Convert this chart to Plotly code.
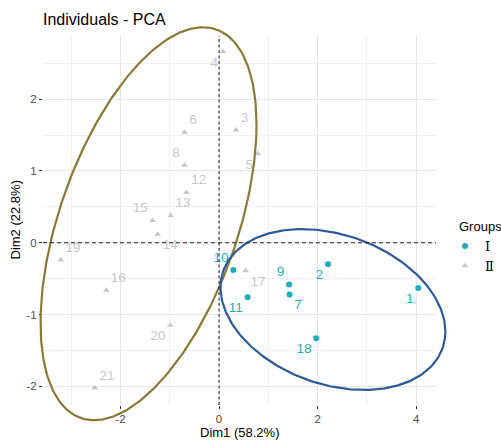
import numpy as np
import plotly.graph_objects as go

# ---------------- data ----------------
g1_labels = ["1", "2", "7", "9", "10", "11", "18"]
g1_x = [4.04, 2.21, 1.43, 1.42, 0.29, 0.58, 1.97]
g1_y = [-0.63, -0.30, -0.72, -0.58, -0.38, -0.76, -1.33]

g2_labels = ["3", "4", "5", "6", "8", "12", "13", "14", "15", "16", "17", "19", "20", "21"]
g2_x = [0.345, 0.075, 0.785, -0.70, -0.70, -0.66, -0.98, -1.24, -1.35, -2.29, 0.54, -3.21, -0.99, -2.52]
g2_y = [1.57, 2.66, 1.24, 1.54, 1.08, 0.70, 0.38, 0.12, 0.31, -0.66, -0.39, -0.24, -1.15, -2.02]

# ellipse parameters: centre, half-extent in x and y, correlation
ell1_center = [2.31, -0.93]
ell1_extent = [2.28, 1.12]
ell1_rho = -0.275
ell2_center = [-1.43, 0.265]
ell2_extent = [2.19, 2.737]
ell2_rho = 0.504

x_ticks = [-2, 0, 2, 4]
x_ticktext = ["-2", "0", "2", "4"]
y_ticks = [-2, -1, 0, 1, 2]
y_ticktext = ["-2", "-1", "0", "1", "2"]
x_minor = [-3, -1, 1, 3]
y_minor = [-1.5, -0.5, 0.5, 1.5, 2.5]

# ---------------- styles ----------------
W, H = 501, 440
TEAL = "#1aafba"
GRAY = "#c8c8c8"
OLIVE = "#8a7a38"
BLUE = "#2c5b99"
FONT = "Liberation Sans, Arial, sans-serif"

g1_pos = ["bottom left", "bottom left", "bottom right", "top left", "top left", "bottom left", "bottom left"]
g2_pos = ["top right", "bottom left", "bottom left", "top right", "top left", "top right", "top right",
          "bottom right", "top left", "top right", "bottom right", "top right", "bottom left", "top right"]

xr = [-3.57, 4.40]
yr = [-2.26, 2.88]
# panel placement in pixels
pl, pr, pt, pb = 43, 436, 36, 405
xdom = [pl / W, pr / W]
ydom = [1 - pb / H, 1 - pt / H]

# full-paper overlay axes with identical scale (so ellipses can extend beyond panel)
sx = (xr[1] - xr[0]) / (pr - pl)
sy = (yr[1] - yr[0]) / (pb - pt)
x2r = [xr[0] - pl * sx, xr[1] + (W - pr) * sx]
y2r = [yr[0] - (H - pb) * sy, yr[1] + pt * sy]


def ellipse(c, e, rho, n=300):
    t = np.linspace(0, 2 * np.pi, n)
    x = c[0] + e[0] * np.cos(t)
    y = c[1] + e[1] * (rho * np.cos(t) + np.sqrt(1 - rho ** 2) * np.sin(t))
    return x, y


fig = go.Figure()

fig.add_trace(go.Scatter(
    x=g1_x, y=g1_y, text=g1_labels, mode="markers+text", name="Ⅰ",
    marker=dict(color=TEAL, size=6, symbol="circle"),
    textposition=g1_pos, textfont=dict(color=TEAL, size=13.5, family=FONT),
    cliponaxis=False, hoverinfo="skip", legendgroup="1"))
fig.add_trace(go.Scatter(
    x=g2_x, y=g2_y, text=g2_labels, mode="markers+text", name="Ⅱ",
    marker=dict(color=GRAY, size=6, symbol="triangle-up"),
    textposition=g2_pos, textfont=dict(color=GRAY, size=13.5, family=FONT),
    cliponaxis=False, hoverinfo="skip", legendgroup="2"))

ex, ey = ellipse(ell2_center, ell2_extent, ell2_rho)
fig.add_trace(go.Scatter(x=ex, y=ey, mode="lines", line=dict(color=OLIVE, width=2.2),
                         xaxis="x2", yaxis="y2", showlegend=False, hoverinfo="skip"))
ex, ey = ellipse(ell1_center, ell1_extent, ell1_rho)
fig.add_trace(go.Scatter(x=ex, y=ey, mode="lines", line=dict(color=BLUE, width=2.2),
                         xaxis="x2", yaxis="y2", showlegend=False, hoverinfo="skip"))

axis_common = dict(showline=False, zeroline=False, ticks="outside", ticklen=3,
                   tickcolor="#333333", tickwidth=1,
                   tickfont=dict(size=11.5, color="#4d4d4d", family=FONT),
                   gridcolor="#e6e6e6", gridwidth=1, fixedrange=True, automargin=False)

fig.update_layout(
    width=W, height=H,
    margin=dict(l=0, r=0, t=0, b=0, autoexpand=False),
    paper_bgcolor="white", plot_bgcolor="rgba(0,0,0,0)",
    font=dict(family=FONT),
    xaxis=dict(domain=xdom, range=xr, anchor="y", tickmode="array",
               tickvals=x_ticks, ticktext=x_ticktext,
               minor=dict(tickmode="array", tickvals=x_minor, showgrid=True,
                          gridcolor="#f0f0f0", gridwidth=1, ticks=""),
               **axis_common),
    yaxis=dict(domain=ydom, range=yr, anchor="x", tickmode="array",
               tickvals=y_ticks, ticktext=y_ticktext,
               minor=dict(tickmode="array", tickvals=y_minor, showgrid=True,
                          gridcolor="#f0f0f0", gridwidth=1, ticks=""),
               **axis_common),
    xaxis2=dict(domain=[0, 1], range=x2r, anchor="y2", visible=False, fixedrange=True),
    yaxis2=dict(domain=[0, 1], range=y2r, anchor="x2", visible=False, fixedrange=True),
    showlegend=True,
    legend=dict(x=445 / W, y=1 - 231 / H, xanchor="left", yanchor="top",
                font=dict(size=13, color="black", family="DejaVu Serif, serif"),
                bgcolor="rgba(0,0,0,0)", itemwidth=30, tracegroupgap=0),
    shapes=[
        dict(type="line", xref="x", yref="y domain", x0=0, x1=0, y0=0, y1=1,
             line=dict(color="#222222", width=1, dash="3px,2.5px")),
        dict(type="line", xref="x domain", yref="y", x0=0, x1=1, y0=0, y1=0,
             line=dict(color="#222222", width=1, dash="4px,3px")),
    ],
    annotations=[
        dict(text="Individuals - PCA", x=41 / W, y=1 - 20 / H, xref="paper", yref="paper",
             xanchor="left", yanchor="middle", showarrow=False,
             font=dict(size=16, color="black", family=FONT)),
        dict(text="Dim1 (58.2%)", x=(pl + pr) / 2 / W, y=1 - 432 / H, xref="paper", yref="paper",
             xanchor="center", yanchor="middle", showarrow=False,
             font=dict(size=13, color="black", family=FONT)),
        dict(text="Dim2 (22.8%)", x=15 / W, y=1 - (pt + pb) / 2 / H, xref="paper", yref="paper",
             xanchor="center", yanchor="middle", showarrow=False, textangle=-90,
             font=dict(size=13, color="black", family=FONT)),
        dict(text="Groups", x=457 / W, y=1 - 227 / H, xref="paper", yref="paper",
             xanchor="left", yanchor="middle", showarrow=False,
             font=dict(size=13, color="black", family=FONT)),
    ],
)

fig.write_html("out.html", config={"displayModeBar": False},
               post_script="document.body.style.margin='0';document.body.style.padding='0';"
                           "document.documentElement.style.overflow='hidden';")
